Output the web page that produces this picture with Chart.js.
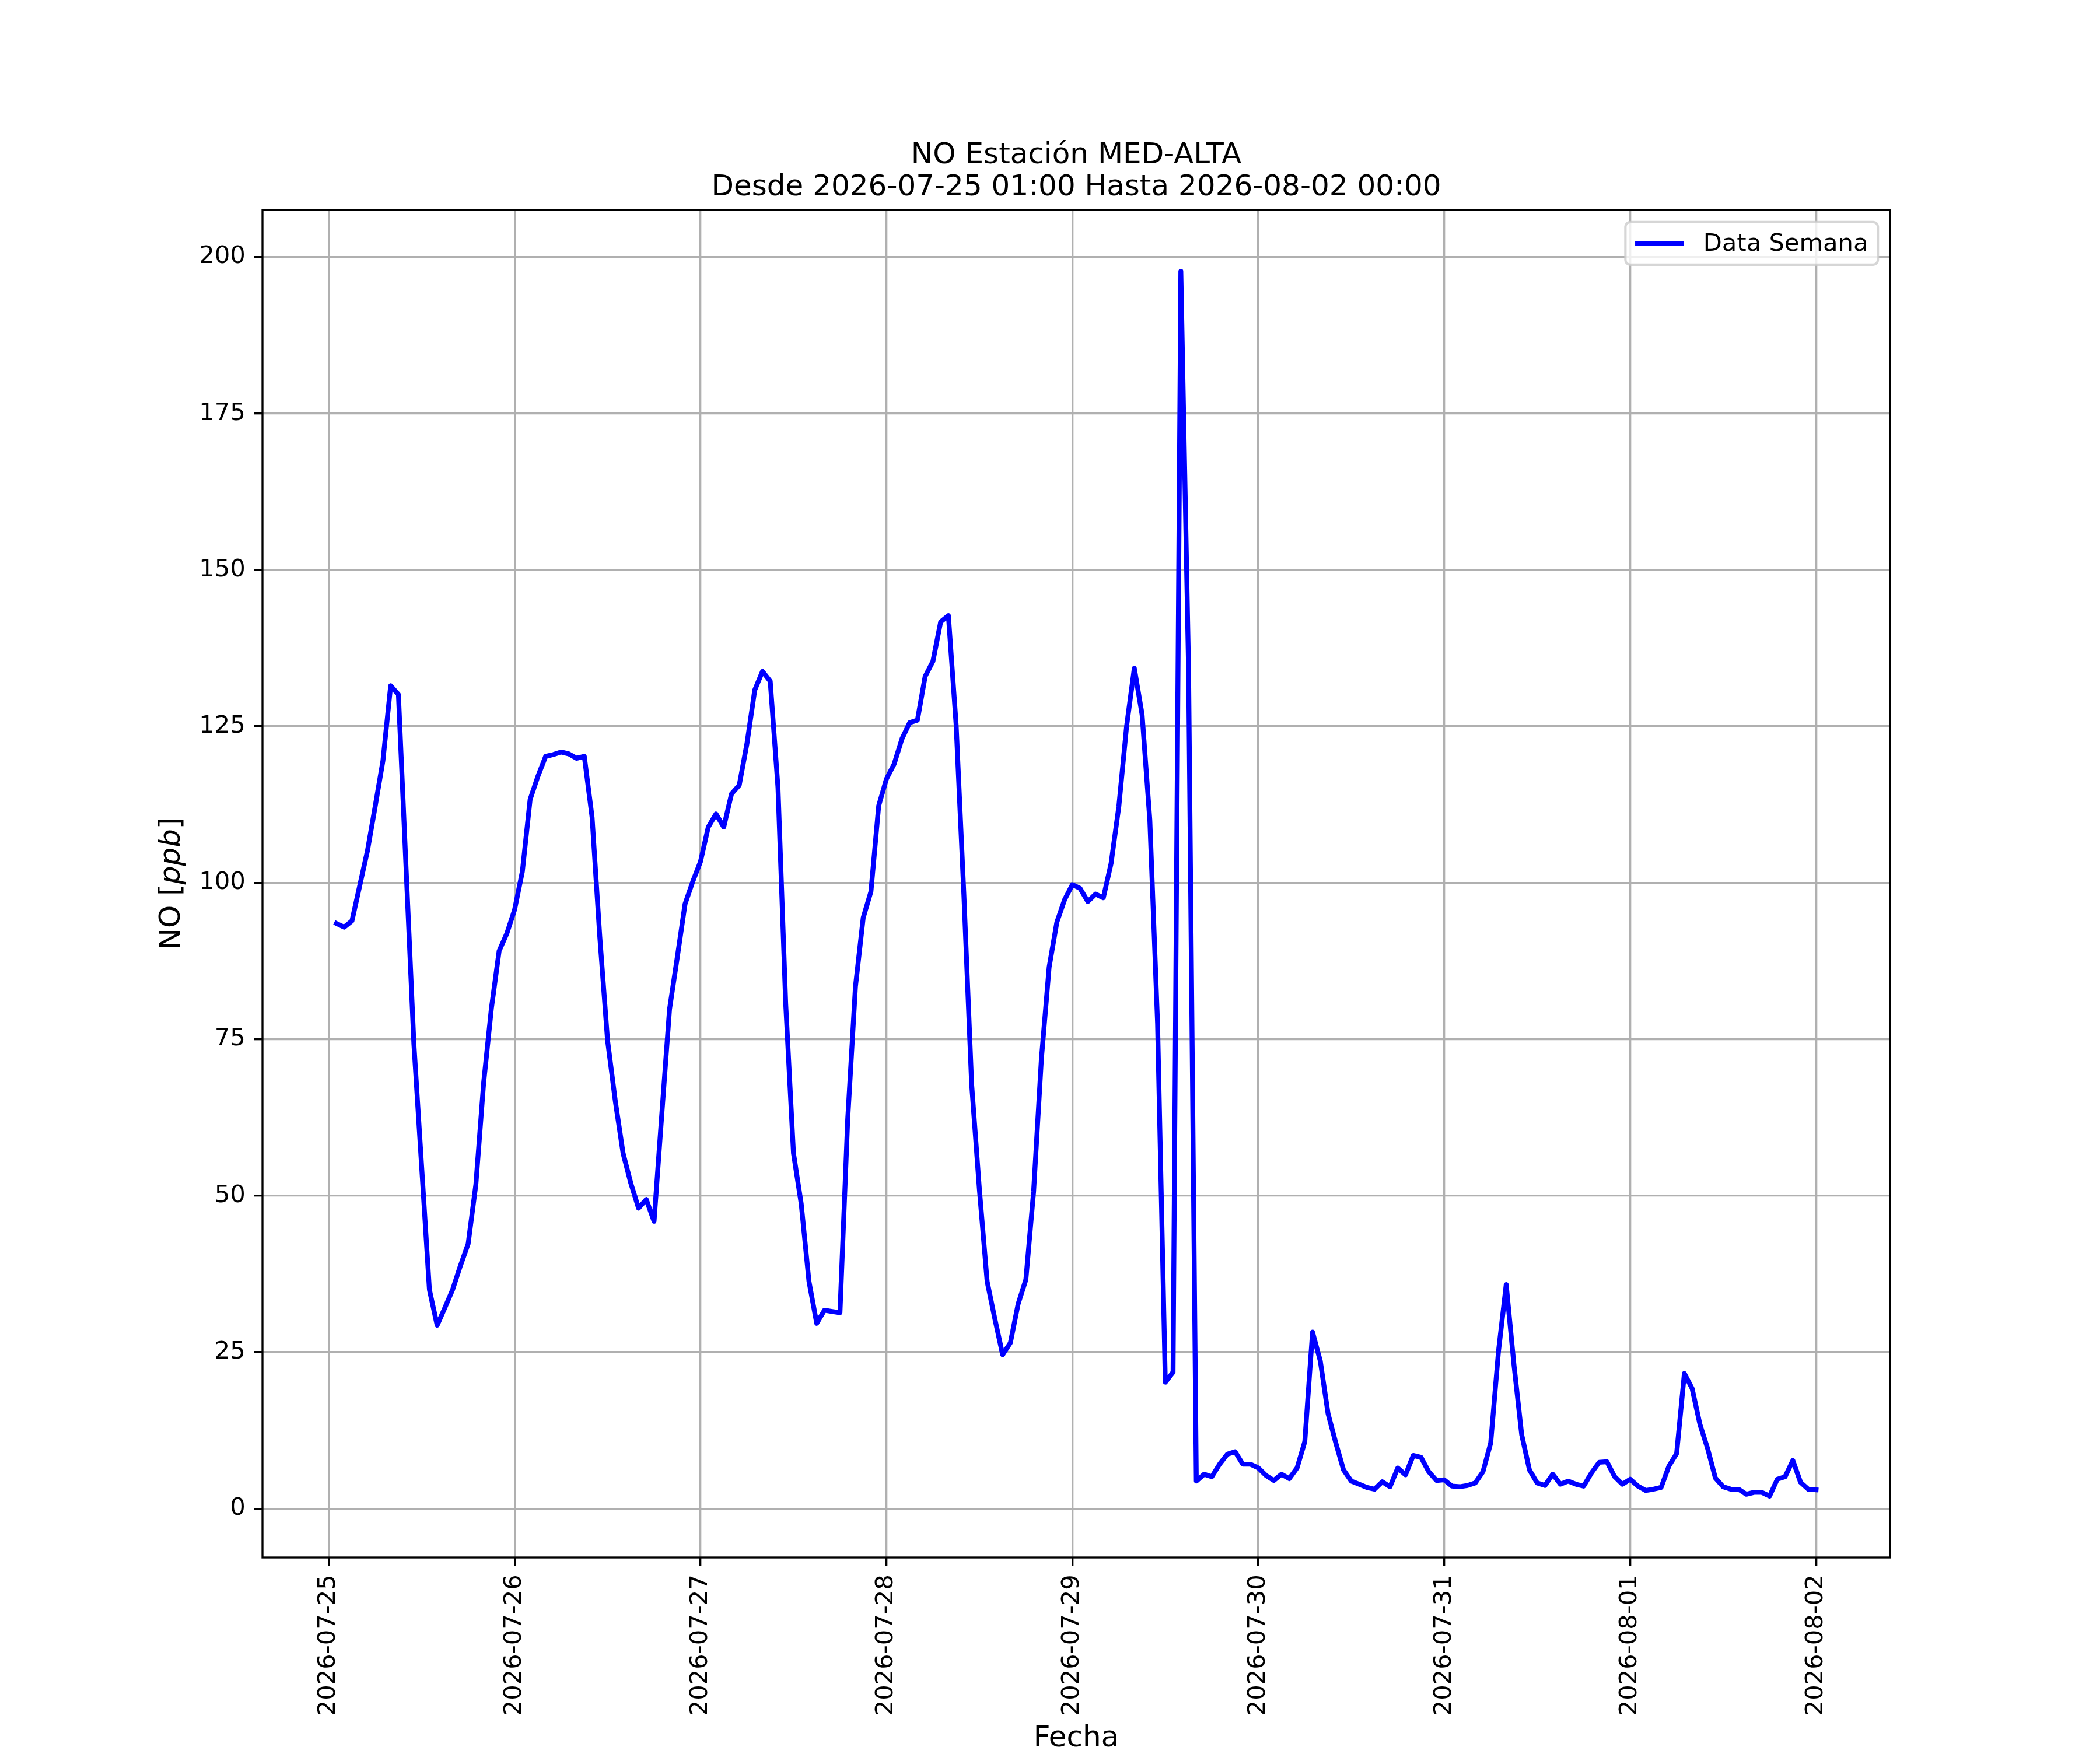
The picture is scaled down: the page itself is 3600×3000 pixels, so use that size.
<!DOCTYPE html>
<html>
<head>
<meta charset="utf-8">
<script src="https://cdn.jsdelivr.net/npm/chart.js@4.4.1/dist/chart.umd.min.js"></script>
<style>
  body { margin: 0; background: #fff; }
  canvas { display: block; }
</style>
</head>
<body>
<canvas id="noChart" width="3600" height="3000" style="width:3600px;height:3000px"></canvas>
<script>
// hourly NO readings, each day runs 01:00 .. 00:00 of the next day
let d0725 = [93.5, 92.9, 93.9, 99.5, 105.1, 112.2, 119.5, 131.5, 130.1, 102.0, 74.2, 54.6, 35.0, 29.3, 32.1, 35.0, 38.8, 42.3, 51.8, 68.0, 79.9, 89.1, 91.9, 95.7];
let d0726 = [101.8, 113.3, 117.0, 120.2, 120.5, 120.9, 120.6, 119.9, 120.2, 110.5, 91.3, 74.8, 65.1, 56.8, 52.0, 48.0, 49.4, 45.9, 63.0, 79.8, 88.1, 96.6, 100.2, 103.4];
let d0727 = [108.9, 111.0, 108.9, 114.2, 115.6, 122.3, 130.8, 133.8, 132.2, 115.2, 80.6, 56.8, 48.7, 36.3, 29.6, 31.7, 31.5, 31.3, 62.2, 83.4, 94.4, 98.6, 112.3, 116.6];
let d0728 = [119.0, 123.0, 125.6, 126.0, 133.0, 135.4, 141.7, 142.7, 125.2, 98.0, 67.8, 51.0, 36.3, 30.3, 24.6, 26.5, 32.7, 36.6, 50.7, 71.8, 86.5, 93.7, 97.3, 99.7];
let d0729 = [99.1, 97.0, 98.2, 97.6, 103.1, 112.2, 125.0, 134.3, 126.9, 110.0, 77.5, 20.2, 21.8, 197.7, 134.2, 4.4, 5.5, 5.1, 7.1, 8.7, 9.1, 7.1, 7.1, 6.5];
let d0730 = [5.3, 4.5, 5.5, 4.8, 6.5, 10.7, 28.2, 23.6, 15.2, 10.5, 6.2, 4.4, 3.9, 3.4, 3.1, 4.3, 3.5, 6.5, 5.4, 8.5, 8.2, 5.9, 4.5, 4.6];
let d0731 = [3.6, 3.5, 3.7, 4.1, 5.9, 10.5, 25.1, 35.8, 23.0, 11.8, 6.2, 4.1, 3.7, 5.5, 3.9, 4.4, 3.9, 3.6, 5.7, 7.4, 7.5, 5.1, 3.9, 4.7];
let d0801 = [3.6, 2.9, 3.1, 3.4, 6.8, 8.8, 21.6, 19.2, 13.5, 9.6, 4.9, 3.5, 3.1, 3.1, 2.3, 2.6, 2.6, 2.0, 4.7, 5.1, 7.7, 4.2, 3.1, 3.0];

let days = [d0725, d0726, d0727, d0728, d0729, d0730, d0731, d0801];
let dateLabels = ["2026-07-25", "2026-07-26", "2026-07-27", "2026-07-28", "2026-07-29",
                  "2026-07-30", "2026-07-31", "2026-08-01", "2026-08-02"];
let yTickValues = [0, 25, 50, 75, 100, 125, 150, 175, 200];
let titleLines = ["NO Estación MED-ALTA", "Desde 2026-07-25 01:00 Hasta 2026-08-02 00:00"];

// x = hours since 2026-07-25 00:00
let points = [];
days.forEach((day, k) => {
  day.forEach((v, j) => points.push({ x: k * 24 + j + 1, y: v }));
});

const FONT = "'DejaVu Sans', sans-serif";
const PT = 300 / 72;

// matplotlib-ish frame around the axes
let frameBox = {
  id: "frameBox",
  afterDatasetsDraw(chart) {
    let ctx = chart.ctx, a = chart.chartArea;
    ctx.save();
    ctx.strokeStyle = "#000";
    ctx.lineWidth = 0.8 * PT;
    ctx.strokeRect(a.left, a.top, a.right - a.left, a.bottom - a.top);
    ctx.restore();
  }
};

// title centred over the axes, last line sitting just above the frame
let axesTitle = {
  id: "axesTitle",
  afterDraw(chart) {
    let ctx = chart.ctx, a = chart.chartArea;
    ctx.save();
    ctx.font = (12 * PT) + "px " + FONT;
    ctx.fillStyle = "#000";
    ctx.textAlign = "center";
    ctx.textBaseline = "alphabetic";
    let cx = (a.left + a.right) / 2;
    let base = a.top - 25;
    titleLines.forEach((t, i) => {
      ctx.fillText(t, cx, base - (titleLines.length - 1 - i) * 55);
    });
    ctx.restore();
  }
};

// y label with italic unit, like mathtext
let yLabel = {
  id: "yLabel",
  afterDraw(chart) {
    let ctx = chart.ctx, a = chart.chartArea;
    let parts = [["NO [", "normal"], ["ppb", "italic"], ["]", "normal"]];
    ctx.save();
    ctx.translate(295, (a.top + a.bottom) / 2);
    ctx.rotate(-Math.PI / 2);
    ctx.fillStyle = "#000";
    ctx.textBaseline = "middle";
    ctx.textAlign = "left";
    let total = 0;
    parts.forEach(p => {
      ctx.font = p[1] + " " + (12 * PT) + "px " + FONT;
      total += ctx.measureText(p[0]).width;
    });
    let x = -total / 2;
    parts.forEach(p => {
      ctx.font = p[1] + " " + (12 * PT) + "px " + FONT;
      ctx.fillText(p[0], x, 0);
      x += ctx.measureText(p[0]).width;
    });
    ctx.restore();
  }
};

// upper right legend box
let mplLegend = {
  id: "mplLegend",
  afterDraw(chart) {
    let ctx = chart.ctx, a = chart.chartArea;
    let ds = chart.data.datasets[0];
    let fs = 10 * PT;
    ctx.save();
    ctx.font = fs + "px " + FONT;
    let tw = ctx.measureText(ds.label).width;
    let pad = 0.4 * fs, handle = 2 * fs, gap = 0.8 * fs;
    let w = pad + handle + gap + tw + pad;
    let h = 73;
    let right = a.right - 0.5 * fs, top = a.top + 0.5 * fs;
    let left = right - w;
    ctx.beginPath();
    ctx.roundRect(left, top, w, h, 8);
    ctx.fillStyle = "rgba(255,255,255,0.8)";
    ctx.fill();
    ctx.strokeStyle = "rgba(204,204,204,0.8)";
    ctx.lineWidth = 1 * PT;
    ctx.stroke();
    let cy = top + h / 2;
    ctx.beginPath();
    ctx.moveTo(left + pad, cy);
    ctx.lineTo(left + pad + handle, cy);
    ctx.strokeStyle = ds.borderColor;
    ctx.lineWidth = ds.borderWidth;
    ctx.stroke();
    ctx.fillStyle = "#000";
    ctx.textBaseline = "middle";
    ctx.fillText(ds.label, left + pad + handle + gap, cy + 2);
    ctx.restore();
  }
};

let chartOptions = {
  responsive: false,
  devicePixelRatio: 1,
  animation: false,
  layout: { padding: { left: 0, right: 360, top: 360, bottom: 0 } },
  plugins: {
    legend: { display: false },
    tooltip: { enabled: false },
    title: { display: false }
  },
  scales: {
    x: {
      type: "linear",
      min: -8.55,
      max: 201.55,
      afterBuildTicks: axis => { axis.ticks = dateLabels.map((l, i) => ({ value: i * 24 })); },
      afterFit: s => { s.height = 330; },
      ticks: {
        autoSkip: false,
        minRotation: 90,
        maxRotation: 90,
        padding: 3.5 * PT,
        color: "#000",
        font: { family: FONT, size: 10 * PT },
        callback: (v, i) => dateLabels[i]
      },
      grid: {
        color: "#b0b0b0",
        lineWidth: 0.8 * PT,
        tickColor: "#000",
        tickWidth: 0.8 * PT,
        tickLength: 3.5 * PT
      },
      border: { display: false },
      title: {
        display: true,
        text: "Fecha",
        color: "#000",
        font: { family: FONT, size: 12 * PT, lineHeight: 0.74 },
        padding: 0
      }
    },
    y: {
      min: -7.8,
      max: 207.5,
      afterBuildTicks: axis => { axis.ticks = yTickValues.map(v => ({ value: v })); },
      afterFit: s => { s.width = 450; },
      ticks: {
        padding: 3.5 * PT,
        color: "#000",
        font: { family: FONT, size: 10 * PT },
        callback: v => String(v)
      },
      grid: {
        color: "#b0b0b0",
        lineWidth: 0.8 * PT,
        tickColor: "#000",
        tickWidth: 0.8 * PT,
        tickLength: 3.5 * PT
      },
      border: { display: false }
    }
  }
};

window.onload = function() {
  let ctx = document.getElementById("noChart").getContext("2d");
  window.noChart = new Chart(ctx, {
    type: "line",
    data: {
      datasets: [{
        label: "Data Semana",
        data: points,
        borderColor: "#0000ff",
        borderWidth: 2 * PT,
        pointRadius: 0,
        tension: 0,
        fill: false,
        borderJoinStyle: "round",
        borderCapStyle: "square"
      }]
    },
    options: chartOptions,
    plugins: [frameBox, axesTitle, yLabel, mplLegend]
  });
};
</script>
</body>
</html>
